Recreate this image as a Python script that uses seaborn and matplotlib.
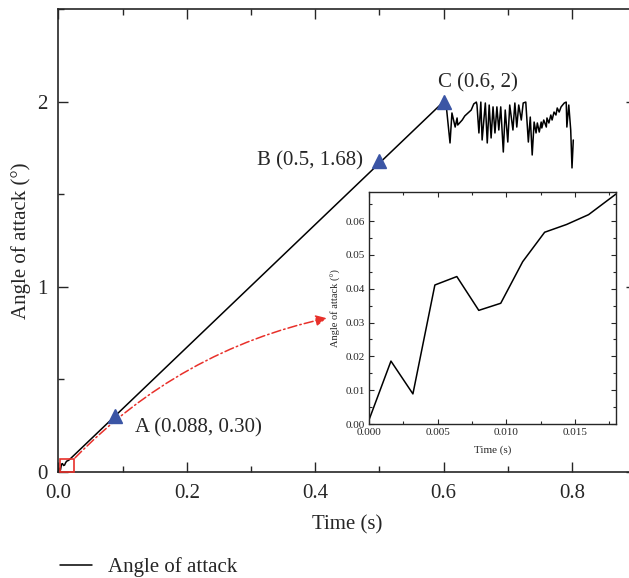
import matplotlib
matplotlib.use("Agg")
import matplotlib.pyplot as plt
import matplotlib.patches as mpatches
from matplotlib.ticker import MultipleLocator, FormatStrFormatter
import seaborn as sns
import pandas as pd

# Start-up phase, sampled every 1.6 ms
t_start = [0.0, 0.0016, 0.0032, 0.0048, 0.0064, 0.0080, 0.0096, 0.0112,
           0.0128, 0.0144, 0.0160, 0.0180]
a_start = [0.0012, 0.0186, 0.0089, 0.0411, 0.0436, 0.0336, 0.0357, 0.0480,
           0.0567, 0.0590, 0.0619, 0.0680]

# Ramp end and oscillating hold phase
t_hold = [0.600, 0.604, 0.610, 0.613, 0.618, 0.621, 0.622, 0.629, 0.633,
          0.638, 0.643, 0.647, 0.651, 0.652, 0.655, 0.658, 0.660, 0.665,
          0.668, 0.671, 0.674, 0.677, 0.680, 0.683, 0.686, 0.689, 0.693,
          0.696, 0.700, 0.703, 0.708, 0.711, 0.714, 0.717, 0.721, 0.724,
          0.728, 0.732, 0.735, 0.738, 0.741, 0.744, 0.746, 0.749, 0.752,
          0.753, 0.756, 0.760, 0.761, 0.764, 0.767, 0.769, 0.772, 0.775,
          0.777, 0.780, 0.783, 0.788, 0.791, 0.792, 0.795, 0.798, 0.800,
          0.802]
a_hold = [2.000, 1.982, 1.777, 1.939, 1.863, 1.912, 1.874, 1.901, 1.923,
          1.939, 1.955, 1.988, 1.998, 1.982, 1.831, 1.998, 1.793, 1.993,
          1.777, 1.982, 1.804, 1.972, 1.831, 1.972, 1.847, 1.972, 1.728,
          1.955, 1.782, 1.982, 1.847, 1.993, 1.863, 1.982, 1.901, 1.993,
          1.998, 1.782, 1.917, 1.712, 1.890, 1.831, 1.885, 1.836, 1.890,
          1.858, 1.901, 1.863, 1.912, 1.885, 1.928, 1.901, 1.944, 1.928,
          1.966, 1.944, 1.972, 1.993, 1.998, 1.863, 1.982, 1.847, 1.642,
          1.793]

# Marked points
pt_names = ["A", "B", "C"]
pt_t = [0.088, 0.5, 0.6]
pt_a = [0.30, 1.68, 2.0]
pt_labels = ["A (0.088, 0.30)", "B (0.5, 1.68)", "C (0.6, 2)"]

x_ticks = [0.0, 0.2, 0.4, 0.6, 0.8]
y_ticks = [0, 1, 2]

df = pd.DataFrame({"time": t_start + t_hold, "angle": a_start + a_hold})
df_in = pd.DataFrame({"time": t_start, "angle": a_start})

sns.set_style("ticks")
plt.rcParams["font.family"] = ["Liberation Serif", "DejaVu Serif"]
plt.rcParams["mathtext.fontset"] = "stix"

fig = plt.figure(figsize=(6.29, 5.78), dpi=100)
W, H = 629, 578
ax = fig.add_axes([58.4 / W, (H - 471.7) / H, 577.8 / W, 462.5 / H])

sns.lineplot(data=df, x="time", y="angle", ax=ax, color="black", lw=1.1,
             sort=False, estimator=None, label="Angle of attack")
ax.plot(pt_t, pt_a, ls="none", marker="^", ms=10, color="#3b55a5", zorder=5)

ax.set_xlim(0, 0.9)
ax.set_ylim(0, 2.5)
ax.set_xticks(x_ticks)
ax.set_yticks(y_ticks)
ax.xaxis.set_major_formatter(FormatStrFormatter("%.1f"))
ax.yaxis.set_major_formatter(FormatStrFormatter("%d"))
ax.xaxis.set_minor_locator(MultipleLocator(0.1))
ax.yaxis.set_minor_locator(MultipleLocator(0.5))
ax.tick_params(which="both", direction="in", top=True, right=True,
               labelsize=15, width=1.0)
ax.tick_params(which="major", length=7)
ax.tick_params(which="minor", length=4)
ax.tick_params(axis="y", pad=8)
ax.tick_params(axis="x", pad=9)
for s in ax.spines.values():
    s.set_linewidth(1.2)
    s.set_visible(True)
ax.set_xlabel("Time (s)", fontsize=15, labelpad=9)
ax.set_ylabel("Angle of attack (°)", fontsize=15, labelpad=4)

# Point labels
ax.text(0.120, 0.235, pt_labels[0], fontsize=15, ha="left", va="center")
ax.text(0.474, 1.68, pt_labels[1], fontsize=15, ha="right", va="center")
ax.text(0.592, 2.10, pt_labels[2], fontsize=15, ha="left", va="center")

# Zoom box at the origin and arrow to the inset
red = "#e8302a"
ax.add_patch(mpatches.Rectangle((0.002, 0.0), 0.022, 0.068, fill=False,
                                ec=red, lw=1.2, zorder=6, clip_on=False))
ax.annotate("", xy=(0.418, 0.83), xytext=(0.026, 0.075),
            arrowprops=dict(arrowstyle="-|>", color=red, lw=1.1,
                            ls=(0, (6, 2, 1, 2)), mutation_scale=16,
                            connectionstyle="arc3,rad=-0.15",
                            shrinkA=0, shrinkB=0))

leg = ax.legend(loc="center left", bbox_to_anchor=(60 / W, 1 - 567 / H),
                bbox_transform=fig.transFigure, frameon=False, fontsize=15,
                handlelength=1.55, handletextpad=0.75, borderpad=0,
                borderaxespad=0)

# Inset: start-up phase
axi = fig.add_axes([369 / W, (H - 424) / H, 247 / W, 232 / H])
sns.lineplot(data=df_in, x="time", y="angle", ax=axi, color="black", lw=1.1,
             sort=False, estimator=None)
axi.set_xlim(0, 0.018)
axi.set_ylim(0, 0.0686)
axi.set_xticks([0.0, 0.005, 0.010, 0.015])
axi.set_yticks([0.0, 0.01, 0.02, 0.03, 0.04, 0.05, 0.06])
axi.xaxis.set_major_formatter(FormatStrFormatter("%.3f"))
axi.yaxis.set_major_formatter(FormatStrFormatter("%.2f"))
axi.xaxis.set_minor_locator(MultipleLocator(0.0025))
axi.yaxis.set_minor_locator(MultipleLocator(0.005))
axi.tick_params(which="both", direction="in", top=True, right=True,
                labelsize=8, width=0.8, pad=3)
axi.tick_params(which="major", length=3.5)
axi.tick_params(which="minor", length=2)
for s in axi.spines.values():
    s.set_linewidth(1.0)
    s.set_visible(True)
axi.set_xlabel("Time (s)", fontsize=8, labelpad=6)
axi.set_ylabel("Angle of attack (°)", fontsize=7.5, labelpad=3)

fig.savefig("out.png", dpi=100)
